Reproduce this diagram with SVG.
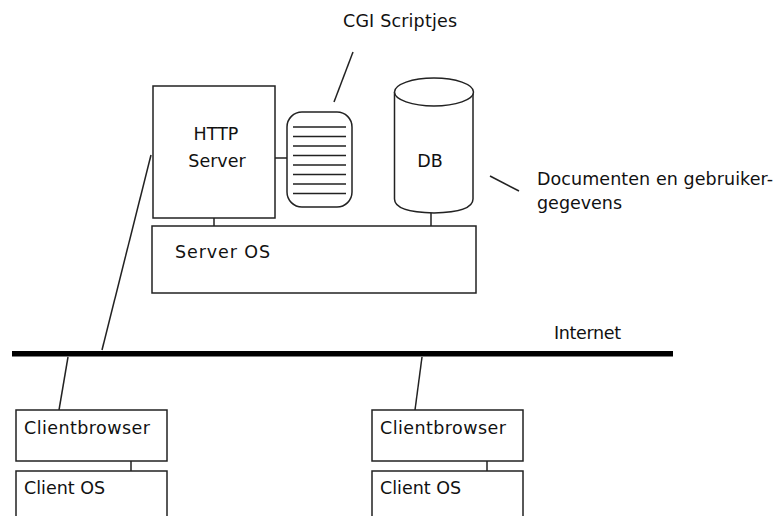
<svg xmlns="http://www.w3.org/2000/svg" width="775" height="516" viewBox="0 0 775 516">
<style>
.b{fill:#fff;stroke:#222;stroke-width:1.5}
.l{fill:none;stroke:#222;stroke-width:1.5}
.t{font-family:"DejaVu Sans",Verdana,sans-serif;font-size:17.5px;fill:#111}
</style>
<rect width="775" height="516" fill="#fff"/>
<g id="connectors">
<line class="l" x1="275" y1="158" x2="287" y2="158"/>
<line class="l" x1="214" y1="218" x2="214" y2="226"/>
<line class="l" x1="431" y1="212" x2="431" y2="226"/>
<line class="l" x1="151" y1="155" x2="102" y2="350"/>
<line class="l" x1="68" y1="357" x2="59" y2="410"/>
<line class="l" x1="422" y1="357" x2="415" y2="410"/>
<line class="l" x1="131" y1="461" x2="131" y2="471"/>
<line class="l" x1="487" y1="461" x2="487" y2="471"/>
<line class="l" x1="353" y1="52" x2="334" y2="102"/>
<line class="l" x1="490" y1="176" x2="519" y2="191"/>
</g>
<g id="internet">
<rect x="12" y="351" width="661" height="5.5" fill="#000"/>
<text class="t" x="554" y="339" textLength="67">Internet</text>
</g>
<g id="server-os">
<rect class="b" x="152" y="226" width="324" height="67"/>
<text class="t" x="175" y="258" textLength="95">Server OS</text>
</g>
<g id="http-server">
<rect class="b" x="153" y="86" width="122" height="132"/>
<text class="t" x="216" y="140" text-anchor="middle">HTTP</text>
<text class="t" x="217" y="167" text-anchor="middle">Server</text>
</g>
<g id="cgi">
<rect class="b" x="287" y="112" width="65" height="95" rx="15" ry="15"/>
<path class="l" d="M293 127H346M293 136.5H346M293 146H346M293 155.5H346M293 165H346M293 174.5H346M293 184H346M293 193.5H346"/>
<text class="t" x="343" y="27" textLength="114">CGI Scriptjes</text>
</g>
<g id="db">
<path class="b" d="M394.5 92V199Q394.5 212 434 213Q473 212 473 199V92"/>
<ellipse class="b" cx="434" cy="92" rx="39.5" ry="14"/>
<text class="t" x="430" y="167" text-anchor="middle">DB</text>
</g>
<g id="db-label">
<text class="t" x="537" y="185" textLength="236">Documenten en gebruiker-</text>
<text class="t" x="537" y="209">gegevens</text>
</g>
<g id="client1">
<rect class="b" x="16" y="410" width="151" height="51"/>
<text class="t" x="24" y="434" textLength="126">Clientbrowser</text>
<rect class="b" x="16" y="471" width="151" height="60"/>
<text class="t" x="24" y="494">Client OS</text>
</g>
<g id="client2">
<rect class="b" x="372" y="410" width="151" height="51"/>
<text class="t" x="380" y="434" textLength="126">Clientbrowser</text>
<rect class="b" x="372" y="471" width="151" height="60"/>
<text class="t" x="380" y="494">Client OS</text>
</g>
</svg>
